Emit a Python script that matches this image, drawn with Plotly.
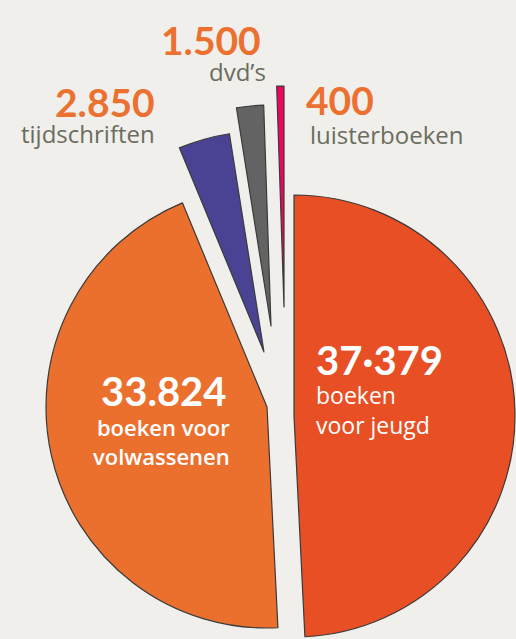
import plotly.graph_objects as go

# ---- data ----
categories = ["boeken voor jeugd", "boeken voor volwassenen", "tijdschriften", "dvd’s", "luisterboeken"]
values = [37379, 33824, 2850, 1500, 400]
value_labels = ["37·379", "33.824", "2.850", "1.500", "400"]
colors = ["#E84F25", "#EC702D", "#4A4393", "#636363", "#F0045E"]

# ---- layout geometry (pixels) ----
W, H = 516, 639
BG = "#F0EFEB"
R = 221
# vertex position of each exploded slice
vertex = [(294, 416), (267, 407), (264, 352), (271, 326), (284, 307)]

fig = go.Figure()
for i, (cx, cy) in enumerate(vertex):
    mcols = [colors[j] if j == i else "rgba(0,0,0,0)" for j in range(len(values))]
    lw = [1.2 if j == i else 0 for j in range(len(values))]
    fig.add_trace(go.Pie(
        labels=categories, values=values, sort=False, direction="clockwise",
        rotation=0, hole=0,
        marker=dict(colors=mcols, line=dict(color="#3a3a3a", width=lw)),
        textinfo="none", hoverinfo="skip", showlegend=False,
        domain=dict(x=[(cx - R) / W, (cx + R) / W],
                    y=[1 - (cy + R) / H, 1 - (cy - R) / H]),
    ))

ORANGE = "#EC7030"
GREY = "#6A6D5E"
NUMFONT = "Lato"
LABFONT = "Open Sans"

def ann(text, x, y, size, color, weight=400, xanchor="center", family=LABFONT, align="center"):
    fig.add_annotation(text=text, x=x / W, y=1 - y / H, xref="paper", yref="paper",
                       showarrow=False, xanchor=xanchor, yanchor="middle", align=align,
                       font=dict(family=family, size=size, color=color, weight=weight))

# outside labels
ann(value_labels[3], 211, 40, 39, ORANGE, 700, family=NUMFONT)
ann(categories[3], 237, 72, 24, GREY)
ann(value_labels[2], 105, 102, 39, ORANGE, 700, family=NUMFONT)
ann(categories[2], 88, 133, 24, GREY)
ann(value_labels[4], 340, 100, 39, ORANGE, 700, family=NUMFONT)
ann(categories[4], 387, 134, 24, GREY)

# inside labels
ann(value_labels[0], 314, 360, 40, "white", 700, "left", family=NUMFONT)
ann("boeken<br>voor jeugd", 314, 410, 23, "white", 400, "left", align="left")
ann(value_labels[1], 229, 391, 40, "white", 700, "right", family=NUMFONT)
ann("boeken voor<br>volwassenen", 232, 441, 22, "white", 600, "right", align="right")

fig.update_layout(width=W, height=H, margin=dict(l=0, r=0, t=0, b=0),
                  paper_bgcolor=BG, plot_bgcolor=BG)

fig.write_html("out.html", config={"displayModeBar": False},
               post_script="document.body.style.margin='0';document.body.style.background='#F0EFEB';")
